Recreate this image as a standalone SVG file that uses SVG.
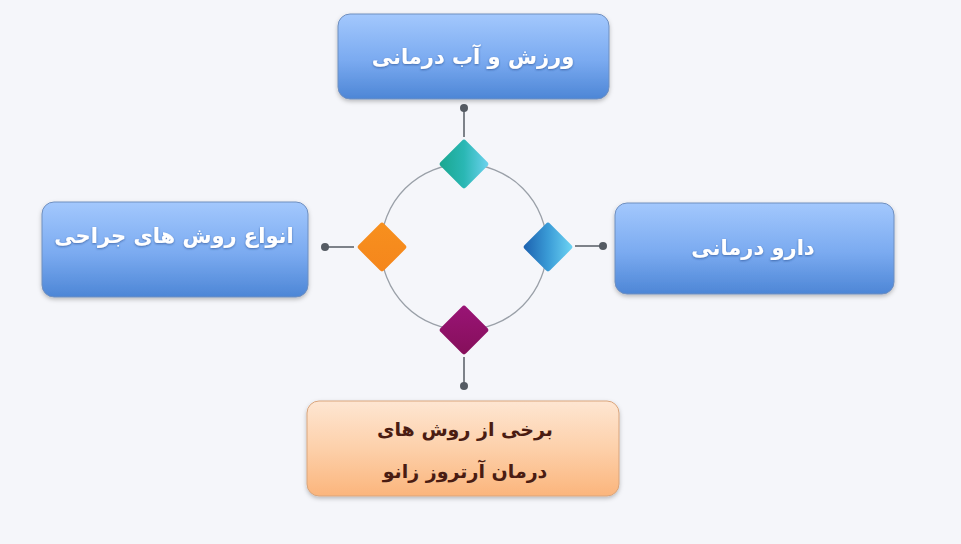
<svg xmlns="http://www.w3.org/2000/svg" width="961" height="544" viewBox="0 0 961 544">
<defs>
<linearGradient id="gBlue" x1="0" y1="0" x2="0" y2="1">
<stop offset="0" stop-color="#a3c8fd"/>
<stop offset="0.55" stop-color="#7aaaf0"/>
<stop offset="1" stop-color="#4d86d6"/>
</linearGradient>
<linearGradient id="gOrange" x1="0" y1="0" x2="0" y2="1">
<stop offset="0" stop-color="#fee6d2"/>
<stop offset="0.5" stop-color="#fdd0aa"/>
<stop offset="1" stop-color="#fbb57c"/>
</linearGradient>
<linearGradient id="gTeal" x1="1" y1="0" x2="0" y2="1">
<stop offset="0" stop-color="#6fd3f0"/>
<stop offset="0.5" stop-color="#2ab7b4"/>
<stop offset="1" stop-color="#19a68e"/>
</linearGradient>
<linearGradient id="gBlueD" x1="1" y1="0" x2="0" y2="1">
<stop offset="0" stop-color="#6fd6f5"/>
<stop offset="0.5" stop-color="#3a9bd6"/>
<stop offset="1" stop-color="#1b5fae"/>
</linearGradient>
<linearGradient id="gOr" x1="0" y1="0" x2="1" y2="1">
<stop offset="0" stop-color="#f7901e"/>
<stop offset="1" stop-color="#f5861c"/>
</linearGradient>
<linearGradient id="gPur" x1="0" y1="0" x2="1" y2="1">
<stop offset="0" stop-color="#9a1476"/>
<stop offset="1" stop-color="#850f5a"/>
</linearGradient>
<filter id="sh" x="-10%" y="-10%" width="120%" height="130%">
<feDropShadow dx="0" dy="2" stdDeviation="2" flood-color="#000" flood-opacity="0.25"/>
</filter>
<filter id="tsh" x="-10%" y="-20%" width="120%" height="140%">
<feDropShadow dx="0" dy="1" stdDeviation="0.8" flood-color="#1b3f80" flood-opacity="0.6"/>
</filter>
</defs>
<style>
.box{stroke:#6f8fbf;stroke-width:1}
.obox{stroke:#d9a57c;stroke-width:1}
.wt{font-family:"DejaVu Sans",sans-serif;font-weight:bold;font-size:21px;fill:#ffffff;text-anchor:middle}
.bt{font-family:"DejaVu Sans",sans-serif;font-weight:bold;font-size:19px;fill:#4a1c12;text-anchor:middle}
.ln{stroke:#555b63;stroke-width:1.5;fill:none}
.dot{fill:#555b63}
.ring{stroke:#9aa0a8;stroke-width:1.3;fill:none}
</style>
<rect width="961" height="544" fill="#f5f6fa"/>
<g id="connectors">
<circle class="ring" cx="464" cy="247" r="83"/>
<line class="ln" x1="464" y1="108" x2="464" y2="137"/>
<circle class="dot" cx="464" cy="108" r="4"/>
<line class="ln" x1="325" y1="247" x2="354" y2="247"/>
<circle class="dot" cx="325" cy="247" r="4"/>
<line class="ln" x1="575" y1="246" x2="603" y2="246"/>
<circle class="dot" cx="603" cy="246" r="4"/>
<line class="ln" x1="464" y1="357" x2="464" y2="386"/>
<circle class="dot" cx="464" cy="386" r="4"/>
</g>
<g id="diamond-top"><rect x="446" y="146" width="36" height="36" rx="3" transform="rotate(45 464 164)" fill="url(#gTeal)"/></g>
<g id="diamond-right"><rect x="530" y="229" width="36" height="36" rx="3" transform="rotate(45 548 247)" fill="url(#gBlueD)"/></g>
<g id="diamond-left"><rect x="364" y="229" width="36" height="36" rx="3" transform="rotate(45 382 247)" fill="url(#gOr)"/></g>
<g id="diamond-bottom"><rect x="446" y="312" width="36" height="36" rx="3" transform="rotate(45 464 330)" fill="url(#gPur)"/></g>
<g id="node-top">
<rect class="box" x="338" y="14" width="271" height="85" rx="12" fill="url(#gBlue)" filter="url(#sh)"/>
<text class="wt" x="473" y="64" filter="url(#tsh)">ورزش و آب درمانی</text>
</g>
<g id="node-left">
<rect class="box" x="42" y="202" width="266" height="95" rx="12" fill="url(#gBlue)" filter="url(#sh)"/>
<text class="wt" x="174" y="243" filter="url(#tsh)">انواع روش های جراحی</text>
</g>
<g id="node-right">
<rect class="box" x="615" y="203" width="279" height="91" rx="12" fill="url(#gBlue)" filter="url(#sh)"/>
<text class="wt" x="753" y="255" filter="url(#tsh)">دارو درمانی</text>
</g>
<g id="node-bottom">
<rect class="obox" x="307" y="401" width="312" height="95" rx="12" fill="url(#gOrange)" filter="url(#sh)"/>
<text class="bt" x="465" y="436">برخی از روش های</text>
<text class="bt" x="465" y="478">درمان آرتروز زانو</text>
</g>
</svg>
